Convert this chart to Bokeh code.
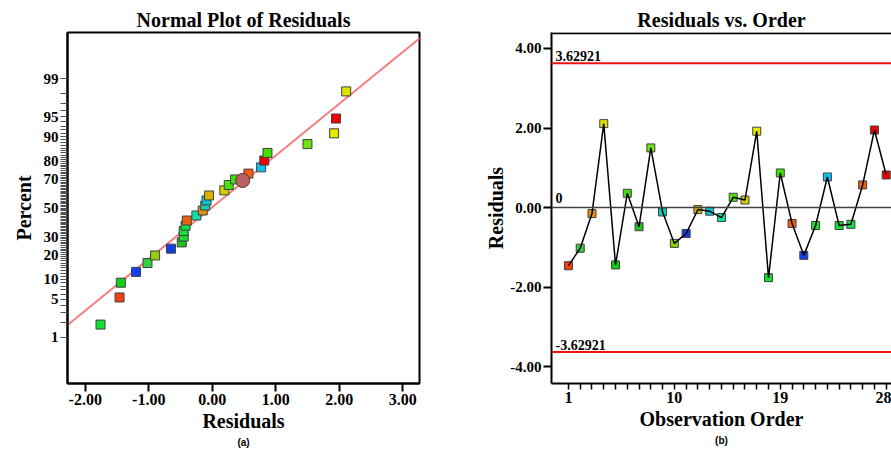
from statistics import NormalDist
from bokeh.plotting import figure
from bokeh.layouts import row
from bokeh.models import (Range1d, FixedTicker, CustomJSTickFormatter, NumeralTickFormatter,
                          Span, Label, Title, ColumnDataSource)
from bokeh.embed import file_html
from bokeh.resources import INLINE

# ---------------- data ----------------
order = list(range(1, 29))
residuals = [-1.46, -1.02, -0.15, 2.11, -1.44, 0.36, -0.48, 1.50, -0.11, -0.90,
             -0.65, -0.05, -0.09, -0.25, 0.26, 0.19, 1.92, -1.76, 0.87, -0.40,
             -1.20, -0.45, 0.77, -0.45, -0.42, 0.57, 1.95, 0.82]
point_colors = ["#f04010", "#30d040", "#e09010", "#e0e000", "#10d010", "#40e010",
                "#20c020", "#70e010", "#10d0b0", "#90d010", "#1040e0", "#d8b000",
                "#10c0d0", "#10e0a0", "#50e010", "#d0d000", "#e8e800", "#10e030",
                "#40e000", "#f06010", "#1040f0", "#20d830", "#10c0f0", "#10e040",
                "#10e040", "#f06010", "#f00000", "#f00000"]
normal_pct = [1.79, 5.36, 8.93, 12.50, 16.07, 19.64, 23.21, 26.79, 30.36, 33.93,
              37.50, 41.07, 44.64, 48.21, 51.79, 55.36, 58.93, 62.50, 66.07, 69.64,
              73.21, 76.79, 80.36, 83.93, 87.50, 91.07, 94.64, 98.21]
highlight_x = [0.48]
highlight_pct = [69.0]
fit_mean = -0.015
fit_sd = 1.074
pct_ticks = [1, 5, 10, 20, 30, 50, 70, 80, 90, 95, 99]
pct_tick_labels = ["1", "5", "10", "20", "30", "50", "70", "80", "90", "95", "99"]
pct_all_ticks = list(range(1, 100))
resid_ticks_a = [-2, -1, 0, 1, 2, 3]
resid_ticks_b = [-4, -2, 0, 2, 4]
order_ticks = [1, 10, 19, 28]
upper_limit = 3.62921
lower_limit = -3.62921

SERIF = "Liberation Serif"
nd = NormalDist()
def probit(p):
    return nd.inv_cdf(p / 100.0)

def style_title(p):
    p.title.align = "center"
    p.title.text_font = SERIF
    p.title.text_font_size = "20px"
    p.title.text_font_style = "bold"
    p.title.text_color = "black"
    p.title.standoff = 4

def style_axis(ax):
    ax.axis_line_width = 2
    ax.axis_line_color = "black"
    ax.major_tick_line_width = 2
    ax.major_tick_line_color = "black"
    ax.major_tick_out = 8
    ax.major_tick_in = 0
    ax.major_label_text_font = SERIF
    ax.major_label_text_font_style = "bold"
    ax.major_label_text_color = "black"
    ax.major_label_standoff = 2
    ax.axis_label_text_font = SERIF
    ax.axis_label_text_font_style = "bold"
    ax.axis_label_text_font_size = "20px"
    ax.axis_label_text_color = "black"
    ax.axis_label_standoff = 2

# ---------------- (a) normal plot ----------------
xa0, xa1 = -2.28, 3.265
pa = figure(width=440, height=450, output_backend="svg", toolbar_location=None,
            x_range=Range1d(xa0, xa1), y_range=Range1d(-3.16, 3.16),
            min_border_left=67, min_border_right=21, min_border_top=32, min_border_bottom=67)
pa.title.text = "Normal Plot of Residuals"
style_title(pa)
pa.grid.visible = False
pa.outline_line_color = "black"
pa.outline_line_width = 2
pa.outline_line_alpha = 1

zt = [probit(p) for p in pct_ticks]
pa.yaxis.ticker = FixedTicker(ticks=[probit(p) for p in pct_all_ticks])
pa.yaxis.formatter = CustomJSTickFormatter(args=dict(zs=zt, labels=pct_tick_labels), code="""
for (let i = 0; i < zs.length; i++) { if (Math.abs(zs[i] - tick) < 1e-6) return labels[i]; }
return "";
""")
pa.xaxis.ticker = FixedTicker(ticks=resid_ticks_a)
pa.xaxis.formatter = NumeralTickFormatter(format="0.00")
pa.xaxis.axis_label = "Residuals"
pa.yaxis.axis_label = "Percent"
style_axis(pa.xaxis[0])
style_axis(pa.yaxis[0])
pa.yaxis.major_tick_line_color = "#505050"
pa.yaxis.major_tick_line_width = 1
pa.yaxis.major_tick_out = 7
pa.xaxis.major_label_text_font_size = "16px"
pa.yaxis.major_label_text_font_size = "15px"
pa.yaxis.axis_label_standoff = 6

# fitted reference line
lx = [xa0 - 0.5, xa1 + 0.5]
pa.line(x=lx, y=[(v - fit_mean) / fit_sd for v in lx], line_color="#f47c7c", line_width=2)

sorted_idx = sorted(range(len(residuals)), key=lambda i: residuals[i])
src_a = ColumnDataSource(dict(
    x=[residuals[i] for i in sorted_idx],
    z=[probit(p) for p in normal_pct],
    c=[point_colors[i] for i in sorted_idx]))
pa.scatter("x", "z", source=src_a, marker="square", size=9, fill_color="c",
           line_color="#404040", line_width=1)
pa.scatter(x=highlight_x, y=[probit(p) for p in highlight_pct], marker="circle", size=14,
           fill_color="#b86262", line_color="#5a3030", line_width=1)
pa.add_layout(Title(text="(a)", align="center", text_font="Liberation Sans", text_color="black",
                    text_font_size="10px", text_font_style="bold", standoff=0), "below")

# ---------------- (b) residuals vs order ----------------
xb0, xb1 = -0.44, 28.45
yb0, yb1 = -4.42, 4.40
pb = figure(width=451, height=450, output_backend="svg", toolbar_location=None,
            x_range=Range1d(xb0, xb1), y_range=Range1d(yb0, yb1),
            min_border_left=111, min_border_right=0, min_border_top=32, min_border_bottom=67)
pb.title.text = "Residuals vs. Order"
style_title(pb)
pb.grid.visible = False
pb.outline_line_color = None

pb.xaxis.ticker = FixedTicker(ticks=[float(v) for v in order])
pb.xaxis.formatter = CustomJSTickFormatter(args=dict(keep=order_ticks), code="""
const r = Math.round(tick);
return keep.indexOf(r) >= 0 ? String(r) : "";
""")
pb.yaxis.ticker = FixedTicker(ticks=resid_ticks_b)
pb.yaxis.formatter = NumeralTickFormatter(format="0.00")
pb.xaxis.axis_label = "Observation Order"
pb.yaxis.axis_label = "Residuals"
style_axis(pb.xaxis[0])
style_axis(pb.yaxis[0])
pb.xaxis.major_tick_line_width = 1.5
pb.xaxis.major_tick_out = 6
pb.xaxis.major_label_text_font_size = "16px"
pb.yaxis.major_label_text_font_size = "15px"
pb.yaxis.axis_label_standoff = 0

# top border of the frame
pb.add_layout(Span(location=yb1 - 0.02, dimension="width", line_color="black", line_width=2))

pb.add_layout(Span(location=upper_limit, dimension="width", line_color="#ee1111", line_width=2))
pb.add_layout(Span(location=lower_limit, dimension="width", line_color="#ee1111", line_width=2))
pb.add_layout(Span(location=0, dimension="width", line_color="#404040", line_width=1.5))
for val, txt, off in [(upper_limit, "3.62921", 2), (lower_limit, "-3.62921", 2), (0, "0", 5)]:
    pb.add_layout(Label(x=xb0, y=val, text=txt, x_offset=4, y_offset=off,
                        text_font=SERIF, text_font_size="14px", text_font_style="bold",
                        text_baseline="bottom", text_color="black"))

src_b = ColumnDataSource(dict(x=order, y=residuals, c=point_colors))
pb.scatter("x", "y", source=src_b, marker="square", size=8, fill_color="c",
           line_color="#404040", line_width=1)
pb.line("x", "y", source=src_b, line_color="black", line_width=1.5)
pb.add_layout(Title(text="(b)", align="center", text_font="Liberation Sans", text_color="black",
                    text_font_size="10px", text_font_style="bold", standoff=0), "below")

layout = row(pa, pb)
open("out.html", "w").write(file_html(layout, INLINE))
